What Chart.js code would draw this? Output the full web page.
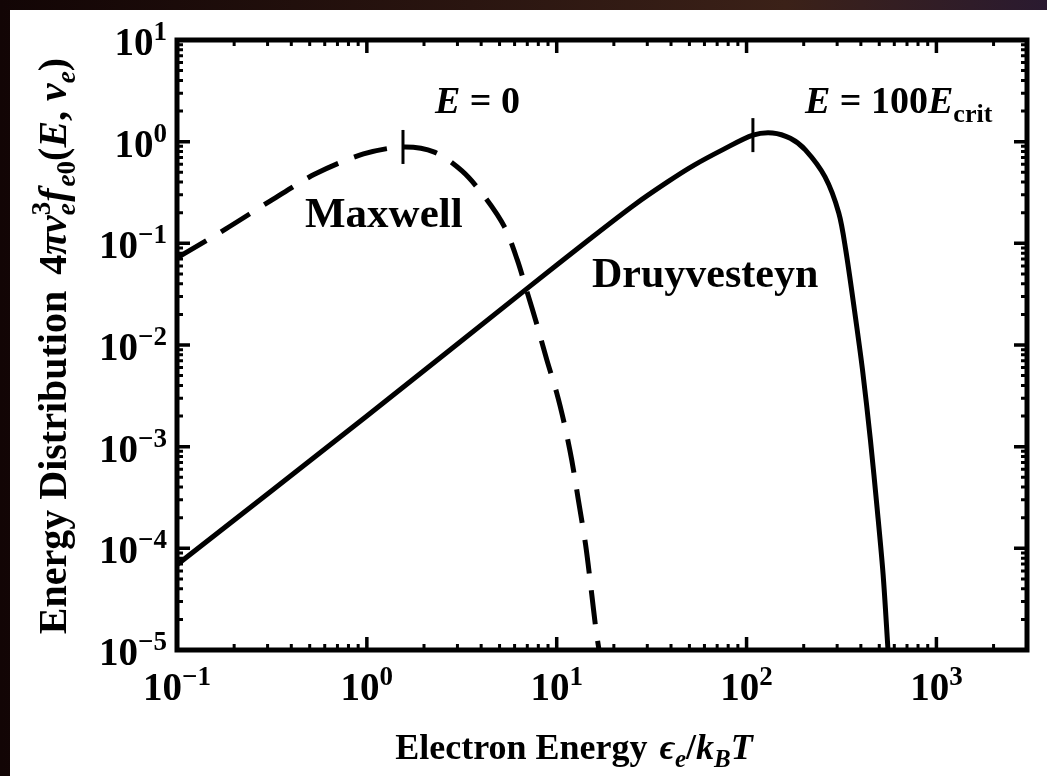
<!DOCTYPE html>
<html>
<head>
<meta charset="utf-8">
<script src="https://cdn.jsdelivr.net/npm/chart.js@4/dist/chart.umd.min.js"></script>
<style>
  html, body { margin: 0; padding: 0; width: 1047px; height: 776px; overflow: hidden;
    background: linear-gradient(90deg, #120505, #2a1510 45%, #3b2118 75%, #2a1a30); }
  #panel { position: absolute; left: 10px; top: 10px; width: 1037px; height: 766px; background: #fff; }
</style>
</head>
<body>
<div id="panel"><canvas id="chart" width="1037" height="766"></canvas></div>
<script>
// values
const maxwellX = [0.1, 0.18, 0.312, 0.533, 0.96, 1.55, 2.27, 3.17, 4.18, 5.31, 6.2, 6.98, 7.87, 8.87, 10.0, 11.0, 12.0, 13.0, 14.2, 15.2, 16.1, 16.7];
const maxwellY = [0.072, 0.138, 0.263, 0.48, 0.757, 0.887, 0.79, 0.515, 0.286, 0.145, 0.0687, 0.0333, 0.0158, 0.00713, 0.00338, 0.00164, 7.4e-4, 3.0e-4, 1.08e-4, 3.9e-5, 1.58e-5, 1e-5];

const druyX = [0.1, 1, 7.16, 15, 25.7, 38.2, 52.7, 75.5, 108, 137, 170, 204, 259, 306, 333, 370, 408, 449, 488, 524, 556];
const druyY = [6.9e-5, 2.0e-3, 0.0373, 0.111, 0.24, 0.40, 0.585, 0.84, 1.16, 1.22, 1.08, 0.83, 0.45, 0.199, 0.086, 0.0221, 5.7e-3, 1.17e-3, 2.4e-4, 5.5e-5, 1e-5];

// vertical marks at the two peaks
const peakX = [1.55, 108];
const peakY = [0.887, 1.16];

const xTicks = [0.1, 1, 10, 100, 1000];
const yTicks = [10, 1, 0.1, 0.01, 0.001, 1e-4, 1e-5];

const SERIF = '"Liberation Serif", "Times New Roman", serif';

function fontOf(p) {
  return (p.i ? 'italic ' : '') + 'bold ' + (p.s || 40) + 'px ' + SERIF;
}

// draws a row of text pieces (sub/superscripts via dy)
function drawRich(ctx, parts, x, y, align) {
  const width = p => {
    if (p.stack) return Math.max(...p.stack.map(width));
    ctx.font = fontOf(p);
    return ctx.measureText(p.t).width + (p.gap || 0);
  };
  const total = parts.reduce((a, p) => a + width(p), 0);
  let cx = align === 'center' ? x - total / 2 : align === 'right' ? x - total : x;
  ctx.textAlign = 'left';
  ctx.textBaseline = 'alphabetic';
  for (const p of parts) {
    for (const q of (p.stack || [p])) {
      ctx.font = fontOf(q);
      ctx.fillText(q.t, cx, y + (q.dy || 0));
    }
    cx += width(p);
  }
}

function expText(v) {
  const e = Math.round(Math.log10(v));
  return e < 0 ? '\u2212' + (-e) : String(e);
}

const framePlugin = {
  id: 'frame',
  afterDraw(chart) {
    const ctx = chart.ctx;
    const a = chart.chartArea;
    const xs = chart.scales.x, ys = chart.scales.y;
    ctx.save();
    ctx.fillStyle = '#000';
    ctx.strokeStyle = '#000';

    // inward ticks on all four sides
    const tick = (horiz, pos, len, lw) => {
      ctx.lineWidth = lw;
      ctx.beginPath();
      if (horiz) {
        ctx.moveTo(pos, a.bottom); ctx.lineTo(pos, a.bottom - len);
        ctx.moveTo(pos, a.top); ctx.lineTo(pos, a.top + len);
      } else {
        ctx.moveTo(a.left, pos); ctx.lineTo(a.left + len, pos);
        ctx.moveTo(a.right, pos); ctx.lineTo(a.right - len, pos);
      }
      ctx.stroke();
    };
    const decades = (min, max, horiz, scale) => {
      for (let d = Math.floor(Math.log10(min)); d <= Math.ceil(Math.log10(max)); d++) {
        for (let k = 1; k <= 9; k++) {
          const v = k * Math.pow(10, d);
          if (v < min * 0.999 || v > max * 1.001) continue;
          const p = scale.getPixelForValue(v);
          if (k === 1) tick(horiz, p, 13, 3.5); else tick(horiz, p, 6, 3);
        }
      }
    };
    decades(xs.min, xs.max, true, xs);
    decades(ys.min, ys.max, false, ys);

    ctx.lineWidth = 5;
    ctx.strokeRect(a.left, a.top, a.right - a.left, a.bottom - a.top);

    // tick labels
    xTicks.forEach(v => {
      drawRich(ctx, [{ t: '10', s: 39 }, { t: expText(v), s: 27, dy: -15 }], xs.getPixelForValue(v), 690, 'center');
    });
    yTicks.forEach(v => {
      const py = ys.getPixelForValue(v);
      drawRich(ctx, [{ t: '10', s: 39 }, { t: expText(v), s: 27, dy: -15 }], 157, py + 15, 'right');
    });

    // axis titles
    drawRich(ctx, [
      { t: 'Electron Energy', s: 36, gap: 12 },
      { t: '\u03f5', i: 1, s: 36 }, { t: 'e', i: 1, s: 25, dy: 8 },
      { t: '/', s: 36 }, { t: 'k', i: 1, s: 36 }, { t: 'B', i: 1, s: 25, dy: 8 }, { t: 'T', i: 1, s: 36 }
    ], 564, 749, 'center');

    ctx.save();
    ctx.translate(56, 336);
    ctx.rotate(-Math.PI / 2);
    drawRich(ctx, [
      { t: 'Energy Distribution', gap: 16 },
      { t: '4' },
      { t: '\u03c0v', i: 1 },
      { stack: [{ t: 'e', i: 1, s: 27, dy: 9 }, { t: '3', s: 27, dy: -16 }], gap: 3 },
      { t: 'f', i: 1, gap: 2 },
      { t: 'e', i: 1, s: 27, dy: 9 }, { t: '0', s: 27, dy: 9 },
      { t: '(' }, { t: 'E', i: 1 }, { t: ', ' }, { t: 'v', i: 1 }, { t: 'e', i: 1, s: 27, dy: 9 }, { t: ')' }
    ], 0, 0, 'center');
    ctx.restore();

    // curve labels
    drawRich(ctx, [{ t: 'E', i: 1, s: 38 }, { t: ' = 0', s: 38 }], 425, 103, 'left');
    drawRich(ctx, [{ t: 'E', i: 1, s: 38 }, { t: ' = 100', s: 38 }, { t: 'E', i: 1, s: 38 }, { t: 'crit', s: 26, dy: 9 }], 795, 103, 'left');
    drawRich(ctx, [{ t: 'Maxwell', s: 43 }], 295, 217, 'left');
    drawRich(ctx, [{ t: 'Druyvesteyn', s: 42 }], 582, 277, 'left');

    ctx.restore();
  }
};

const ctx = document.getElementById('chart').getContext('2d');
new Chart(ctx, {
  type: 'line',
  data: {
    datasets: [
      {
        label: 'Maxwell',
        data: maxwellX.map((x, i) => ({ x: x, y: maxwellY[i] })),
        borderColor: '#000',
        borderWidth: 5,
        borderDash: [34, 17],
        pointRadius: 0,
        fill: false,
        tension: 0.3
      },
      {
        label: 'Druyvesteyn',
        data: druyX.map((x, i) => ({ x: x, y: druyY[i] })),
        borderColor: '#000',
        borderWidth: 5,
        pointRadius: 0,
        fill: false,
        tension: 0.3
      },
      {
        label: 'peaks',
        data: peakX.map((x, i) => ({ x: x, y: peakY[i] })),
        showLine: false,
        pointStyle: 'line',
        pointRotation: 90,
        pointRadius: 17,
        borderWidth: 3,
        borderColor: '#000'
      }
    ]
  },
  options: {
    responsive: false,
    animation: false,
    layout: { padding: { left: 167, top: 30, right: 8, bottom: 126 } },
    plugins: { legend: { display: false }, tooltip: { enabled: false } },
    scales: {
      x: { type: 'logarithmic', min: 0.1, max: 3000, display: false },
      y: { type: 'logarithmic', min: 1e-5, max: 10, display: false }
    }
  },
  plugins: [framePlugin]
});
</script>
</body>
</html>
